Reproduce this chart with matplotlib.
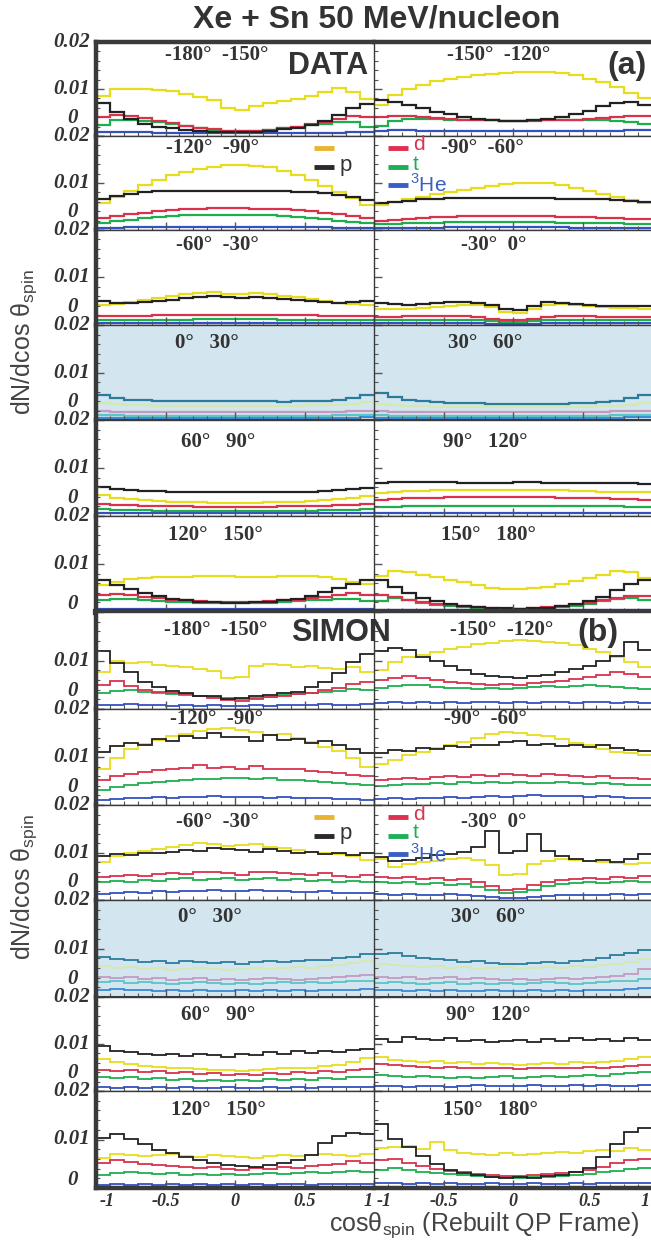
import numpy as np
import matplotlib
matplotlib.use("Agg")
import matplotlib.pyplot as plt
from matplotlib.lines import Line2D
from matplotlib.ticker import MultipleLocator

# dN/dcos(theta_spin) in units of 1e-3, 20 bins over cos(theta) = -1 .. 1
# ---- (a) DATA ----
A1L_alpha = [8.6, 10.1, 10.1, 9.9, 9.7, 9.5, 9.0, 8.4, 7.6, 6.0, 5.6, 6.4, 7.0, 7.4, 7.9, 8.5, 9.3, 10.3, 9.4, 7.8]
A1L_p = [7.0, 5.2, 3.6, 2.6, 2.0, 1.6, 1.3, 1.1, 0.9, 0.8, 0.8, 0.9, 1.1, 1.4, 1.8, 2.4, 3.2, 4.4, 5.9, 6.8]
A1L_d = [4.0, 4.5, 4.3, 3.8, 3.2, 2.7, 2.2, 1.8, 1.4, 1.1, 1.0, 1.1, 1.3, 1.6, 2.0, 2.5, 3.0, 3.6, 4.2, 4.0]
A1L_t = [2.4, 3.3, 3.4, 3.2, 2.9, 2.5, 2.1, 1.7, 1.3, 1.1, 1.0, 1.1, 1.3, 1.6, 1.9, 2.3, 2.6, 2.9, 2.9, 1.9]
A1L_he3 = [0.9, 0.9, 0.8, 0.8, 0.7, 0.7, 0.6, 0.6, 0.6, 0.6, 0.6, 0.6, 0.6, 0.6, 0.6, 0.6, 0.7, 0.7, 0.8, 0.8]

A1R_alpha = [6.5, 8.7, 9.9, 10.9, 11.6, 12.2, 12.6, 12.9, 13.1, 13.4, 13.6, 13.7, 13.6, 13.3, 12.9, 12.2, 11.4, 10.4, 9.2, 8.0]
A1R_p = [7.6, 7.2, 6.6, 5.9, 5.2, 4.6, 4.1, 3.7, 3.4, 3.2, 3.2, 3.3, 3.6, 4.0, 4.6, 5.4, 6.3, 7.1, 7.2, 6.6]
A1R_d = [4.0, 4.2, 4.2, 4.0, 3.8, 3.6, 3.5, 3.4, 3.3, 3.2, 3.2, 3.2, 3.3, 3.4, 3.5, 3.7, 3.9, 4.1, 4.3, 4.2]
A1R_t = [2.2, 3.2, 3.6, 3.7, 3.6, 3.5, 3.4, 3.3, 3.3, 3.2, 3.2, 3.3, 3.4, 3.5, 3.5, 3.5, 3.4, 3.2, 2.9, 2.6]
A1R_he3 = [1.1, 1.2, 1.2, 1.1, 1.1, 1.1, 1.0, 1.0, 1.0, 1.0, 1.0, 1.0, 1.0, 1.0, 1.0, 1.1, 1.1, 1.1, 1.2, 1.2]

A2L_alpha = [5.8, 7.0, 8.3, 9.6, 10.6, 11.6, 12.4, 13.0, 13.5, 13.8, 13.9, 13.7, 13.3, 12.6, 11.7, 10.6, 9.4, 8.1, 6.8, 5.4]
A2L_p = [6.5, 7.2, 7.7, 8.0, 8.2, 8.2, 8.3, 8.3, 8.3, 8.3, 8.3, 8.3, 8.3, 8.2, 8.1, 8.0, 7.8, 7.5, 7.0, 6.3]
A2L_d = [2.6, 3.0, 3.4, 3.7, 4.0, 4.2, 4.4, 4.5, 4.6, 4.6, 4.6, 4.5, 4.5, 4.4, 4.2, 4.0, 3.7, 3.4, 3.0, 2.6]
A2L_t = [1.5, 1.9, 2.2, 2.5, 2.7, 2.9, 3.1, 3.2, 3.2, 3.2, 3.2, 3.2, 3.1, 3.0, 2.8, 2.6, 2.3, 2.0, 1.7, 1.4]
A2L_he3 = [0.5, 0.5, 0.6, 0.6, 0.6, 0.6, 0.7, 0.7, 0.7, 0.7, 0.7, 0.7, 0.7, 0.6, 0.6, 0.6, 0.6, 0.5, 0.5, 0.5]

A2R_alpha = [5.3, 5.9, 6.5, 7.1, 7.6, 8.0, 8.5, 9.0, 9.4, 9.7, 9.9, 10.1, 10.0, 9.6, 9.0, 8.4, 7.7, 7.0, 6.3, 5.7]
A2R_p = [5.7, 5.9, 6.2, 6.5, 6.7, 6.8, 6.9, 6.9, 6.9, 6.9, 6.9, 6.8, 6.8, 6.7, 6.7, 6.6, 6.5, 6.3, 6.1, 6.0]
A2R_d = [2.0, 2.2, 2.4, 2.6, 2.7, 2.8, 2.9, 2.9, 3.0, 3.0, 3.0, 2.9, 2.9, 2.8, 2.8, 2.7, 2.6, 2.5, 2.4, 2.3]
A2R_t = [1.2, 1.3, 1.4, 1.5, 1.5, 1.6, 1.6, 1.6, 1.6, 1.6, 1.6, 1.6, 1.6, 1.5, 1.5, 1.5, 1.4, 1.4, 1.3, 1.3]
A2R_he3 = [0.5, 0.5, 0.5, 0.5, 0.5, 0.6, 0.6, 0.6, 0.6, 0.6, 0.6, 0.6, 0.6, 0.6, 0.5, 0.5, 0.5, 0.5, 0.5, 0.5]

A3L_alpha = [4.2, 4.5, 4.9, 5.3, 5.7, 6.1, 6.5, 6.8, 7.0, 6.6, 6.5, 6.8, 6.6, 6.2, 5.8, 5.4, 5.0, 4.7, 4.4, 4.2]
A3L_p = [5.0, 4.6, 4.6, 4.8, 5.0, 5.3, 5.6, 5.9, 6.0, 5.8, 5.6, 5.8, 5.7, 5.5, 5.2, 5.0, 4.8, 4.7, 4.8, 5.1]
A3L_d = [1.8, 1.8, 1.9, 1.9, 2.0, 2.0, 2.1, 2.1, 2.1, 2.1, 2.1, 2.1, 2.1, 2.0, 2.0, 2.0, 1.9, 1.9, 1.9, 1.9]
A3L_t = [1.0, 1.0, 1.0, 1.1, 1.1, 1.1, 1.1, 1.2, 1.2, 1.2, 1.2, 1.2, 1.2, 1.1, 1.1, 1.1, 1.1, 1.0, 1.0, 1.0]
A3L_he3 = [0.4, 0.4, 0.4, 0.4, 0.5, 0.5, 0.5, 0.5, 0.5, 0.5, 0.5, 0.5, 0.5, 0.5, 0.5, 0.4, 0.4, 0.4, 0.4, 0.4]

A3R_alpha = [3.3, 3.3, 3.4, 3.5, 3.7, 4.0, 4.3, 4.3, 3.8, 2.8, 2.5, 3.4, 4.3, 4.4, 4.2, 4.0, 3.8, 3.6, 3.5, 3.4]
A3R_p = [4.6, 4.4, 4.3, 4.4, 4.6, 4.8, 4.9, 4.7, 4.2, 3.4, 3.2, 4.0, 4.8, 4.6, 4.4, 4.2, 4.0, 3.9, 3.9, 4.0]
A3R_d = [1.7, 1.7, 1.8, 1.8, 1.8, 1.8, 1.8, 1.6, 1.3, 1.0, 1.0, 1.3, 1.6, 1.8, 1.8, 1.8, 1.7, 1.7, 1.7, 1.7]
A3R_t = [1.0, 1.0, 1.0, 1.0, 1.1, 1.1, 1.1, 1.0, 0.8, 0.6, 0.6, 0.8, 1.0, 1.1, 1.1, 1.0, 1.0, 1.0, 1.0, 1.0]
A3R_he3 = [0.4, 0.4, 0.4, 0.4, 0.4, 0.4, 0.4, 0.4, 0.3, 0.2, 0.2, 0.3, 0.4, 0.4, 0.4, 0.4, 0.4, 0.4, 0.4, 0.4]

A4L_alpha = [3.5, 3.3, 3.2, 3.1, 3.0, 3.0, 3.0, 3.0, 3.0, 3.0, 3.0, 3.0, 3.0, 3.0, 3.0, 3.1, 3.1, 3.2, 3.4, 3.7]
A4L_p = [5.2, 4.6, 4.3, 4.2, 4.1, 4.0, 4.0, 4.0, 4.0, 4.0, 4.0, 3.9, 3.9, 3.8, 3.9, 4.0, 4.1, 4.3, 4.7, 5.3]
A4L_d = [1.8, 1.7, 1.7, 1.6, 1.6, 1.6, 1.6, 1.6, 1.6, 1.6, 1.6, 1.6, 1.6, 1.6, 1.6, 1.6, 1.7, 1.7, 1.8, 1.9]
A4L_t = [1.0, 1.0, 0.9, 0.9, 0.9, 0.9, 0.9, 0.9, 0.9, 0.9, 0.9, 0.9, 0.9, 0.9, 0.9, 0.9, 0.9, 1.0, 1.0, 1.1]
A4L_he3 = [0.5, 0.5, 0.5, 0.5, 0.5, 0.5, 0.5, 0.5, 0.5, 0.5, 0.5, 0.5, 0.5, 0.5, 0.5, 0.5, 0.5, 0.5, 0.5, 0.6]

A4R_alpha = [3.4, 3.2, 3.0, 2.9, 2.8, 2.8, 2.7, 2.7, 2.7, 2.7, 2.7, 2.7, 2.7, 2.7, 2.8, 2.8, 2.9, 3.0, 3.2, 3.5]
A4R_p = [5.6, 4.8, 4.3, 4.0, 3.8, 3.6, 3.5, 3.5, 3.4, 3.4, 3.4, 3.4, 3.4, 3.4, 3.5, 3.6, 3.8, 4.1, 4.6, 5.2]
A4R_d = [1.8, 1.7, 1.7, 1.6, 1.6, 1.6, 1.6, 1.6, 1.6, 1.6, 1.6, 1.6, 1.6, 1.6, 1.6, 1.7, 1.7, 1.8, 1.9, 2.0]
A4R_t = [1.0, 0.9, 0.9, 0.9, 0.9, 0.9, 0.9, 0.9, 0.9, 0.9, 0.9, 0.9, 0.9, 0.9, 0.9, 0.9, 0.9, 1.0, 1.0, 1.1]
A4R_he3 = [0.5, 0.5, 0.5, 0.5, 0.5, 0.5, 0.5, 0.5, 0.5, 0.5, 0.5, 0.5, 0.5, 0.5, 0.5, 0.5, 0.5, 0.5, 0.6, 0.6]

A5L_alpha = [4.3, 3.8, 3.5, 3.3, 3.1, 3.0, 2.9, 2.9, 2.8, 2.8, 2.8, 2.8, 2.9, 2.9, 3.0, 3.1, 3.3, 3.5, 3.8, 4.2]
A5L_p = [6.0, 5.6, 5.4, 5.3, 5.2, 5.1, 5.0, 4.9, 4.9, 4.9, 4.9, 4.9, 4.9, 5.0, 5.0, 5.1, 5.2, 5.4, 5.6, 5.9]
A5L_d = [2.5, 2.3, 2.2, 2.1, 2.0, 2.0, 2.0, 1.9, 1.9, 1.9, 1.9, 1.9, 1.9, 2.0, 2.0, 2.0, 2.1, 2.2, 2.3, 2.4]
A5L_t = [1.4, 1.3, 1.2, 1.2, 1.1, 1.1, 1.1, 1.1, 1.1, 1.1, 1.1, 1.1, 1.1, 1.1, 1.1, 1.1, 1.2, 1.2, 1.3, 1.4]
A5L_he3 = [0.6, 0.6, 0.6, 0.6, 0.6, 0.6, 0.6, 0.6, 0.6, 0.6, 0.6, 0.6, 0.6, 0.6, 0.6, 0.6, 0.6, 0.6, 0.6, 0.7]

A5R_alpha = [4.8, 5.1, 5.2, 5.3, 5.4, 5.5, 5.5, 5.5, 5.5, 5.5, 5.5, 5.5, 5.5, 5.4, 5.3, 5.2, 5.1, 5.0, 4.9, 4.9]
A5R_p = [6.8, 7.0, 7.0, 7.0, 7.0, 7.0, 6.9, 6.9, 6.9, 6.9, 7.0, 7.0, 6.9, 6.9, 6.9, 6.9, 6.9, 6.9, 6.8, 6.7]
A5R_d = [3.4, 3.6, 3.7, 3.8, 3.8, 3.9, 3.9, 3.9, 3.9, 3.9, 3.9, 3.9, 3.9, 3.8, 3.8, 3.7, 3.7, 3.6, 3.5, 3.4]
A5R_t = [1.8, 1.9, 2.0, 2.0, 2.1, 2.1, 2.1, 2.1, 2.1, 2.1, 2.1, 2.1, 2.1, 2.1, 2.1, 2.0, 2.0, 2.0, 1.9, 1.8]
A5R_he3 = [0.7, 0.7, 0.7, 0.7, 0.7, 0.7, 0.7, 0.7, 0.7, 0.7, 0.7, 0.7, 0.7, 0.7, 0.7, 0.7, 0.7, 0.7, 0.7, 0.7]

A6L_alpha = [5.6, 6.3, 6.8, 7.0, 7.2, 7.3, 7.3, 7.4, 7.4, 7.4, 7.3, 7.3, 7.3, 7.4, 7.4, 7.4, 7.2, 6.8, 6.3, 5.8]
A6L_p = [6.6, 5.6, 4.8, 4.0, 3.3, 2.8, 2.4, 2.1, 2.0, 1.9, 1.9, 2.0, 2.1, 2.4, 2.8, 3.4, 4.2, 5.0, 5.9, 6.6]
A6L_d = [3.5, 3.8, 3.6, 3.2, 2.9, 2.6, 2.4, 2.2, 2.1, 2.0, 2.0, 2.1, 2.2, 2.4, 2.6, 2.9, 3.2, 3.6, 3.9, 3.6]
A6L_t = [2.4, 2.8, 2.8, 2.6, 2.3, 2.1, 2.0, 1.9, 1.8, 1.8, 1.8, 1.8, 1.9, 2.0, 2.2, 2.4, 2.6, 2.8, 2.8, 2.3]
A6L_he3 = [0.6, 0.6, 0.6, 0.6, 0.6, 0.6, 0.6, 0.6, 0.6, 0.6, 0.6, 0.6, 0.6, 0.6, 0.6, 0.6, 0.6, 0.6, 0.6, 0.6]

A6R_alpha = [7.4, 8.5, 8.3, 7.8, 7.2, 6.7, 6.2, 5.6, 5.1, 4.8, 4.7, 4.9, 5.3, 5.8, 6.4, 7.0, 7.8, 8.5, 8.3, 7.1]
A6R_p = [6.6, 5.2, 3.9, 2.9, 2.2, 1.7, 1.3, 1.1, 0.9, 0.8, 0.7, 0.8, 0.9, 1.2, 1.6, 2.3, 3.2, 4.6, 5.9, 6.6]
A6R_d = [3.5, 3.1, 2.6, 2.1, 1.7, 1.4, 1.2, 1.0, 0.8, 0.7, 0.7, 0.8, 1.0, 1.2, 1.5, 1.9, 2.4, 3.0, 3.4, 3.3]
A6R_t = [2.2, 3.0, 2.5, 1.9, 1.5, 1.2, 1.0, 0.8, 0.7, 0.7, 0.7, 0.7, 0.8, 1.0, 1.3, 1.7, 2.2, 2.7, 3.0, 2.6]
A6R_he3 = [0.5, 0.5, 0.5, 0.5, 0.5, 0.5, 0.5, 0.5, 0.5, 0.5, 0.5, 0.5, 0.5, 0.5, 0.5, 0.5, 0.5, 0.5, 0.5, 0.5]

# ---- (b) SIMON ----
B1L_alpha = [7.6, 9.8, 9.4, 9.6, 9.0, 8.8, 8.6, 8.2, 7.8, 6.4, 6.6, 8.8, 9.2, 9.0, 8.6, 8.8, 8.4, 8.2, 8.6, 7.6]
B1L_p = [12.0, 9.4, 7.6, 5.6, 4.6, 3.8, 3.2, 2.6, 2.6, 2.0, 2.2, 2.6, 2.8, 3.4, 3.6, 4.6, 5.6, 7.4, 9.6, 11.4]
B1L_d = [5.0, 5.8, 4.8, 4.0, 3.6, 3.2, 3.0, 2.6, 2.2, 1.8, 1.6, 2.0, 2.4, 2.6, 3.0, 3.4, 4.0, 4.4, 5.2, 5.6]
B1L_t = [3.2, 3.8, 4.0, 3.6, 3.2, 3.0, 2.8, 2.6, 2.4, 2.2, 2.0, 2.2, 2.4, 2.8, 3.0, 3.2, 3.6, 3.8, 4.2, 4.0]
B1L_he3 = [0.8, 0.9, 1.0, 0.8, 0.9, 0.7, 0.8, 0.7, 0.8, 0.6, 0.7, 0.8, 0.7, 0.9, 0.8, 0.8, 1.0, 0.8, 0.9, 1.0]

B1R_alpha = [8.0, 9.6, 10.8, 11.2, 11.8, 12.4, 12.8, 13.4, 13.6, 14.0, 14.2, 14.0, 13.8, 13.6, 13.2, 12.4, 11.8, 10.8, 9.6, 8.6]
B1R_p = [12.0, 12.6, 12.2, 10.8, 9.8, 8.8, 8.0, 7.2, 6.8, 6.6, 6.4, 6.8, 7.0, 7.6, 8.2, 8.8, 9.8, 11.0, 13.8, 12.2]
B1R_d = [6.0, 6.4, 6.8, 6.4, 6.0, 5.6, 5.4, 5.2, 5.0, 5.2, 5.0, 5.4, 5.6, 5.8, 6.2, 6.6, 7.0, 7.6, 7.2, 6.6]
B1R_t = [4.4, 4.8, 5.0, 5.0, 4.6, 4.4, 4.4, 4.2, 4.4, 4.2, 4.4, 4.6, 4.8, 4.6, 4.8, 5.0, 4.8, 4.6, 4.4, 4.2]
B1R_he3 = [1.2, 1.4, 1.3, 1.4, 1.2, 1.5, 1.3, 1.4, 1.5, 1.3, 1.4, 1.3, 1.5, 1.4, 1.3, 1.5, 1.4, 1.3, 1.4, 1.3]

B2L_alpha = [7.6, 9.8, 11.6, 12.8, 13.6, 14.4, 14.8, 15.4, 15.8, 16.0, 15.6, 15.2, 14.6, 14.8, 14.0, 13.2, 12.0, 11.2, 9.8, 8.0]
B2L_p = [11.0, 12.2, 13.0, 12.6, 13.8, 13.4, 14.4, 14.0, 15.0, 14.2, 14.2, 13.4, 14.6, 13.6, 13.8, 13.0, 13.4, 12.4, 11.6, 10.8]
B2L_d = [5.2, 6.0, 6.4, 6.8, 7.2, 7.6, 7.8, 8.4, 7.8, 8.0, 7.6, 8.2, 7.6, 7.4, 7.6, 7.0, 6.8, 6.6, 6.2, 6.0]
B2L_t = [3.2, 3.8, 4.2, 4.6, 4.8, 5.0, 5.2, 5.4, 5.4, 5.6, 5.6, 5.4, 5.6, 5.2, 5.2, 5.0, 4.8, 4.6, 4.4, 4.2]
B2L_he3 = [1.0, 1.2, 1.4, 1.4, 1.6, 1.5, 1.7, 1.6, 1.8, 1.6, 1.7, 1.6, 1.5, 1.7, 1.5, 1.4, 1.5, 1.3, 1.2, 1.1]

B2R_alpha = [8.6, 9.4, 10.4, 11.0, 11.8, 12.6, 13.2, 14.0, 14.8, 15.2, 15.0, 14.6, 14.4, 13.8, 13.0, 12.4, 11.6, 11.0, 10.8, 10.4]
B2R_p = [10.8, 11.4, 11.2, 11.8, 11.6, 12.2, 12.0, 12.6, 12.4, 13.2, 13.4, 12.6, 12.8, 12.2, 12.4, 12.0, 12.6, 11.8, 11.4, 11.2]
B2R_d = [5.2, 5.4, 5.6, 5.4, 5.8, 6.0, 5.8, 6.2, 6.0, 6.4, 6.2, 6.0, 6.4, 6.2, 6.0, 5.8, 6.0, 5.6, 5.6, 5.4]
B2R_t = [4.0, 4.2, 4.4, 4.4, 4.6, 4.4, 4.8, 4.6, 4.8, 4.6, 4.8, 4.6, 4.6, 4.8, 4.6, 4.4, 4.6, 4.4, 4.2, 4.2]
B2R_he3 = [1.2, 1.4, 1.3, 1.5, 1.4, 1.6, 1.5, 1.7, 1.8, 1.7, 1.9, 2.0, 1.9, 1.8, 1.9, 1.7, 1.8, 1.6, 1.5, 1.4]

B3L_alpha = [8.0, 9.2, 9.8, 10.4, 10.8, 11.2, 11.6, 12.0, 11.8, 11.4, 11.6, 11.8, 11.2, 11.0, 10.6, 10.2, 9.8, 9.6, 9.2, 8.4]
B3L_p = [9.2, 9.6, 9.4, 10.0, 9.8, 10.2, 10.6, 10.4, 11.0, 10.8, 10.6, 10.2, 10.8, 10.4, 10.0, 10.2, 9.6, 10.0, 9.4, 9.8]
B3L_d = [4.8, 5.0, 5.2, 5.0, 5.4, 5.6, 5.4, 6.0, 5.8, 5.6, 5.2, 5.8, 6.0, 5.6, 5.4, 5.2, 5.6, 5.0, 4.8, 5.2]
B3L_t = [3.8, 4.0, 3.8, 4.2, 4.0, 4.4, 4.6, 4.2, 4.4, 4.6, 4.2, 4.4, 4.6, 4.2, 4.4, 4.0, 4.2, 3.8, 4.0, 3.8]
B3L_he3 = [1.3, 1.4, 1.6, 1.5, 1.8, 1.7, 2.0, 1.9, 2.1, 2.0, 1.8, 2.1, 1.9, 1.8, 1.7, 1.6, 1.8, 1.5, 1.4, 1.5]

B3R_alpha = [8.6, 7.0, 7.6, 8.0, 8.2, 8.6, 8.8, 8.4, 7.4, 5.2, 5.4, 7.6, 8.2, 8.6, 8.4, 8.2, 8.0, 7.8, 7.6, 7.8]
B3R_p = [9.0, 8.2, 8.4, 8.8, 9.4, 9.6, 10.2, 11.2, 14.6, 10.0, 10.4, 14.0, 10.4, 9.2, 8.6, 8.2, 8.4, 8.0, 8.6, 9.6]
B3R_d = [4.8, 4.6, 4.8, 4.4, 4.6, 4.2, 4.4, 3.8, 3.0, 2.2, 2.4, 3.2, 3.8, 4.2, 4.4, 4.6, 4.4, 4.8, 4.6, 5.0]
B3R_t = [3.8, 3.6, 3.8, 3.4, 3.6, 3.2, 3.4, 2.8, 2.2, 1.4, 1.6, 2.2, 3.0, 3.4, 3.6, 3.8, 3.6, 3.8, 4.0, 3.8]
B3R_he3 = [1.2, 1.1, 1.2, 1.0, 1.1, 1.2, 1.0, 0.9, 0.6, 0.4, 0.5, 0.7, 0.9, 1.0, 1.1, 1.0, 1.1, 1.2, 1.1, 1.2]

B4L_alpha = [6.4, 6.0, 6.2, 5.8, 6.0, 5.6, 5.8, 6.0, 5.8, 5.6, 5.8, 6.0, 5.8, 6.0, 6.2, 6.0, 6.4, 6.6, 7.0, 7.4]
B4L_p = [8.2, 7.8, 7.6, 7.2, 7.4, 7.0, 7.4, 7.2, 7.0, 7.2, 6.8, 7.2, 7.4, 7.2, 7.4, 7.6, 7.6, 8.0, 8.2, 8.8]
B4L_d = [4.2, 4.0, 4.2, 3.8, 4.0, 3.6, 3.8, 4.0, 3.6, 3.8, 3.6, 3.8, 4.0, 3.8, 3.6, 3.8, 4.0, 4.2, 4.4, 4.6]
B4L_t = [3.0, 3.2, 2.8, 3.0, 2.8, 2.6, 2.8, 3.0, 2.8, 2.6, 2.8, 2.6, 2.8, 3.0, 2.8, 3.0, 2.8, 3.0, 3.2, 3.4]
B4L_he3 = [1.4, 1.6, 1.4, 1.5, 1.3, 1.4, 1.2, 1.4, 1.3, 1.2, 1.4, 1.3, 1.5, 1.3, 1.4, 1.2, 1.4, 1.5, 1.4, 1.6]

B4R_alpha = [6.8, 6.6, 6.4, 6.2, 6.4, 6.0, 6.2, 5.8, 6.0, 6.2, 5.8, 6.0, 6.2, 6.0, 6.4, 6.2, 6.6, 6.8, 7.2, 7.8]
B4R_p = [8.8, 9.0, 8.4, 8.0, 7.8, 7.6, 7.2, 7.4, 7.0, 6.8, 6.9, 7.0, 7.2, 7.0, 7.4, 7.6, 8.0, 8.6, 9.0, 9.6]
B4R_d = [4.2, 4.0, 4.2, 3.8, 4.0, 4.2, 3.8, 4.0, 3.8, 3.6, 3.8, 3.6, 3.8, 4.0, 3.8, 4.0, 4.2, 4.4, 4.8, 5.8]
B4R_t = [2.8, 3.0, 2.8, 2.6, 2.8, 3.0, 2.6, 2.8, 2.6, 2.8, 2.6, 2.8, 3.0, 2.8, 2.6, 2.8, 3.0, 3.2, 3.4, 3.8]
B4R_he3 = [1.4, 1.5, 1.3, 1.4, 1.2, 1.4, 1.3, 1.2, 1.4, 1.3, 1.2, 1.4, 1.3, 1.5, 1.3, 1.4, 1.5, 1.4, 1.6, 1.8]

B5L_alpha = [6.8, 6.2, 5.8, 5.4, 5.2, 5.0, 4.8, 4.6, 4.4, 4.4, 4.2, 4.4, 4.6, 4.8, 5.0, 5.0, 5.4, 5.6, 6.2, 7.0]
B5L_p = [9.6, 8.6, 8.2, 7.8, 7.6, 7.8, 7.4, 7.8, 7.6, 7.2, 7.8, 7.6, 8.2, 7.8, 8.6, 8.0, 8.6, 8.4, 8.8, 9.0]
B5L_d = [4.4, 4.2, 4.4, 4.0, 4.2, 3.8, 4.0, 3.6, 3.8, 3.4, 3.6, 3.4, 3.8, 3.6, 4.0, 3.8, 4.2, 4.0, 4.4, 4.6]
B5L_t = [3.0, 2.8, 3.0, 2.6, 2.8, 2.4, 2.6, 2.2, 2.4, 2.2, 2.4, 2.2, 2.6, 2.4, 2.6, 2.4, 2.8, 2.6, 3.0, 3.0]
B5L_he3 = [0.8, 0.7, 0.9, 0.7, 0.8, 0.6, 0.8, 0.7, 0.6, 0.8, 0.7, 0.6, 0.8, 0.7, 0.8, 0.7, 0.8, 0.9, 0.8, 0.9]

B5R_alpha = [7.2, 6.6, 6.4, 6.2, 6.4, 6.0, 6.2, 5.8, 6.0, 5.8, 5.6, 5.8, 6.0, 5.8, 6.2, 6.0, 6.2, 6.4, 6.8, 7.2]
B5R_p = [11.0, 10.4, 11.4, 11.0, 10.8, 11.2, 10.6, 10.8, 10.4, 10.6, 10.8, 10.4, 11.0, 10.6, 11.2, 10.8, 11.0, 10.6, 11.2, 10.8]
B5R_d = [5.8, 5.6, 5.4, 5.2, 5.0, 5.2, 4.8, 5.0, 4.8, 5.0, 4.6, 4.8, 5.0, 4.8, 5.0, 5.2, 5.0, 5.2, 5.4, 5.6]
B5R_t = [3.4, 3.2, 3.0, 3.2, 3.0, 2.8, 3.0, 2.8, 3.0, 3.2, 2.8, 3.0, 3.2, 3.0, 3.2, 3.4, 3.2, 3.6, 3.8, 4.0]
B5R_he3 = [1.0, 1.1, 0.9, 1.0, 1.1, 0.9, 1.0, 1.2, 1.0, 1.1, 1.0, 1.2, 1.1, 1.0, 1.2, 1.1, 1.2, 1.0, 1.1, 1.2]

B6L_alpha = [6.2, 7.0, 6.8, 6.6, 6.8, 7.0, 6.6, 6.4, 6.8, 6.6, 6.4, 6.2, 6.6, 6.8, 6.6, 6.8, 7.0, 6.8, 6.6, 7.0]
B6L_p = [10.4, 11.2, 10.2, 9.0, 7.8, 7.2, 6.4, 5.8, 5.2, 4.8, 4.6, 4.4, 4.8, 5.2, 5.8, 6.8, 9.2, 10.8, 11.4, 11.2]
B6L_d = [5.2, 5.8, 5.4, 5.0, 4.8, 4.6, 4.4, 4.2, 4.4, 4.0, 3.8, 4.2, 4.0, 4.4, 4.2, 4.6, 4.8, 5.0, 5.6, 5.2]
B6L_t = [2.6, 3.0, 3.2, 3.0, 2.8, 3.0, 2.6, 2.8, 2.6, 2.8, 2.6, 2.8, 3.0, 2.8, 3.0, 3.2, 3.0, 3.4, 3.6, 3.4]
B6L_he3 = [0.7, 0.8, 0.6, 0.8, 0.7, 0.9, 0.7, 0.8, 0.6, 0.8, 0.7, 0.8, 0.7, 0.9, 0.8, 0.7, 0.9, 0.8, 0.9, 0.8]

B6R_alpha = [8.2, 8.4, 8.6, 8.0, 9.4, 7.8, 7.2, 7.0, 6.8, 7.2, 6.8, 7.0, 7.2, 7.4, 7.2, 7.6, 7.8, 7.6, 8.2, 7.8]
B6R_p = [13.2, 10.2, 8.4, 6.6, 5.0, 3.8, 3.0, 2.6, 2.2, 2.0, 2.2, 2.0, 2.4, 2.6, 3.2, 4.2, 6.4, 9.0, 11.6, 12.4]
B6R_d = [5.8, 6.0, 5.2, 4.6, 4.0, 3.6, 3.2, 2.8, 2.6, 2.4, 2.4, 2.6, 2.8, 3.0, 3.4, 3.8, 4.4, 5.2, 5.8, 6.0]
B6R_t = [3.8, 4.2, 3.8, 3.4, 3.0, 2.8, 2.6, 2.4, 2.2, 2.2, 2.0, 2.2, 2.2, 2.4, 2.6, 2.8, 3.2, 3.6, 4.0, 4.2]
B6R_he3 = [1.0, 1.1, 0.9, 1.0, 0.9, 1.0, 0.8, 0.9, 1.0, 0.8, 0.9, 1.0, 0.9, 0.8, 1.0, 0.9, 1.0, 1.1, 1.0, 1.1]

ANGLES_LEFT = ["-180°  -150°", "-120°  -90°", "-60°  -30°", "0°   30°", "60°   90°", "120°   150°"]
ANGLES_RIGHT = ["-150°  -120°", "-90°  -60°", "-30°  0°", "30°   60°", "90°   120°", "150°   180°"]

XTICK_LABELS = ["-1", "-0.5", "0", "0.5", "1"]

# ---------------------------------------------------------------
W, H = 651, 1241
SCALE = 1e-3
edges = np.linspace(-1, 1, 21)
ORDER = ["he3", "t", "d", "alpha", "p"]
COLORS = {"p": "#222222", "alpha": "#e8dc1e", "d": "#d8324c", "t": "#1fae4e", "he3": "#3352c2"}
SHADED = {"p": "#2b7c9c", "alpha": "#d3e9b0", "d": "#c59ac2", "t": "#5cc3c6", "he3": "#3b8ad6"}
SHADE_BG = "#d3e5ee"
FRAME = "#3a3a3a"
TXT = "#333333"

ROWS_A = [42, 136, 230, 325, 420, 516, 612]
ROWS_B = [612, 709, 805, 900, 997, 1091, 1188]
X0, XMID, XW = 96, 374, 278

# label positions inside panels (axes fraction)
LAB_A = [((0.435, 0.86), (0.45, 0.86)), ((0.42, 0.87), (0.39, 0.87)), ((0.435, 0.84), (0.43, 0.84)),
         ((0.40, 0.81), (0.40, 0.81)), ((0.44, 0.77), (0.40, 0.77)), ((0.43, 0.80), (0.41, 0.80))]
LAB_B = [((0.43, 0.81), (0.46, 0.81)), ((0.435, 0.90), (0.40, 0.90)), ((0.435, 0.82), (0.43, 0.82)),
         ((0.41, 0.82), (0.41, 0.82)), ((0.44, 0.81), (0.41, 0.81)), ((0.44, 0.80), (0.42, 0.80))]

SERIF = dict(family="Liberation Serif", weight="bold", color=TXT)

fig = plt.figure(figsize=(W / 100, H / 100), dpi=100)


def panel_data(block, row, side):
    tag = f"{block}{row + 1}{side}_"
    return {sp: globals()[tag + sp] for sp in ORDER}


def make_block(block, rows, labpos):
    axes = []
    for r in range(6):
        top, bot = rows[r], rows[r + 1]
        for side, xl in (("L", X0), ("R", XMID)):
            ax = fig.add_axes([xl / W, 1 - bot / H, XW / W, (bot - top) / H])
            shaded = r == 3
            if shaded:
                ax.set_facecolor(SHADE_BG)
            cols = SHADED if shaded else COLORS
            data = panel_data(block, r, side)
            lw = 1.6 if block == "A" else 1.3
            for sp in ORDER:
                ax.stairs(np.array(data[sp]) * SCALE, edges, baseline=None,
                          color=cols[sp], lw=lw)
            ax.set_xlim(-1, 1)
            ax.set_ylim(0, 0.02)
            ax.xaxis.set_major_locator(MultipleLocator(0.5))
            ax.xaxis.set_minor_locator(MultipleLocator(0.1))
            ax.yaxis.set_major_locator(MultipleLocator(0.01))
            ax.yaxis.set_minor_locator(MultipleLocator(0.002))
            ax.tick_params(which="both", direction="in", colors="#555555",
                           top=False, right=False, labelbottom=False, labelleft=False)
            ax.tick_params(which="major", length=6, width=1)
            ax.tick_params(which="minor", length=3, width=0.8)
            for s in ax.spines.values():
                s.set_color(FRAME)
                s.set_linewidth(1.0)
            ax.spines["right"].set_visible(False)
            if side == "L":
                ax.spines["left"].set_linewidth(3.2)
            if r == 3:
                ax.spines["bottom"].set_linewidth(2.2)
            txt = ANGLES_LEFT[r] if side == "L" else ANGLES_RIGHT[r]
            px, py = labpos[r][0 if side == "L" else 1]
            ax.text(px, py, txt, transform=ax.transAxes, ha="center", va="center",
                    fontsize=15, **SERIF)
            if side == "L":
                kw = dict(transform=ax.transAxes, fontsize=15, style="italic", **SERIF)
                ax.text(-0.022, 0.5, "0.01", ha="right", va="center", **kw)
                if not (block == "B" and r == 0):
                    ax.text(-0.022, 1.0, "0.02", ha="right", va="center", **kw)
                zy = 0.08 if r == 5 else 0.19
                ax.text(-0.085, zy, "0", ha="center", va="center", **kw)
            axes.append(ax)
    return axes


axes_a = make_block("A", ROWS_A, LAB_A)
axes_b = make_block("B", ROWS_B, LAB_B)

# thick frame lines
axes_a[0].spines["top"].set_linewidth(3.2)
axes_a[1].spines["top"].set_linewidth(3.2)
for ax in axes_a[-2:]:
    ax.spines["bottom"].set_linewidth(4.5)
for ax in axes_b[-2:]:
    ax.spines["bottom"].set_linewidth(3.2)

# x tick labels on the bottom row
xlab_pos = {"L": [-0.92, -0.5, 0, 0.5, 0.99], "R": [-0.93, -0.5, 0, 0.55, 0.95]}
for ax, side in zip(axes_b[-2:], ("L", "R")):
    for xv, lab in zip(xlab_pos[side], XTICK_LABELS):
        ha = "right" if (side == "L" and lab == "1") else "center"
        ax.text(xv, -0.135, lab, transform=ax.get_xaxis_transform(), ha=ha, va="center",
                fontsize=13, style="italic", **SERIF)


# in-panel legends
def leg_dash(x0, x1, y, color):
    fig.add_artist(Line2D([x0 / W, x1 / W], [1 - y / H, 1 - y / H], color=color, lw=3.5,
                          transform=fig.transFigure, solid_capstyle="butt"))


for dy in (0, 669):
    leg_dash(314, 334, 148 + dy, "#e9b431")
    leg_dash(314, 334, 167 + dy, "#2a2a2a")
    fig.text(340 / W, 1 - (165 + dy) / H, "p", fontsize=16, color="#333333",
             family="Liberation Sans", va="center")
    leg_dash(388, 408, 148 + dy, "#de3050")
    leg_dash(388, 408, 167 + dy, "#1fae55")
    leg_dash(388, 408, 185 + dy, "#3a5fc4")
    fig.text(413 / W, 1 - (145 + dy) / H, "d", fontsize=15, color="#de3050",
             family="Liberation Sans", va="center")
    fig.text(413 / W, 1 - (164 + dy) / H, "t", fontsize=15, color="#1fae55",
             family="Liberation Sans", va="center")
    fig.text(410 / W, 1 - (185 + dy) / H, "$^{\\mathregular{3}}$He", fontsize=15, color="#3a5fc4",
             family="Liberation Sans", va="center")

# titles and block labels
BOLD = dict(family="Liberation Sans", weight="bold", color="#333333")
fig.text(377 / W, 1 - 19 / H, "Xe + Sn 50 MeV/nucleon", ha="center", va="center",
         fontsize=23, **BOLD)
fig.text(328 / W, 1 - 66 / H, "DATA", ha="center", va="center", fontsize=22, **BOLD)
fig.text(627 / W, 1 - 66 / H, "(a)", ha="center", va="center", fontsize=23, **BOLD)
fig.text(341 / W, 1 - 633 / H, "SIMON", ha="center", va="center", fontsize=22, **BOLD)
fig.text(598 / W, 1 - 633 / H, "(b)", ha="center", va="center", fontsize=23, **BOLD)

ylab = "dN/dcos θ$_{\\mathregular{spin}}$"
for yc in (342, 887):
    fig.text(24 / W, 1 - yc / H, ylab, rotation=90, ha="center", va="center",
             fontsize=18, color="#444444", family="Liberation Sans")

fig.text(639 / W, 1 - 1225 / H, "cosθ$_{\\mathregular{spin}}$ (Rebuilt QP Frame)",
         ha="right", va="center", fontsize=18, color="#444444", family="Liberation Sans")

fig.savefig("out.png", dpi=100)
